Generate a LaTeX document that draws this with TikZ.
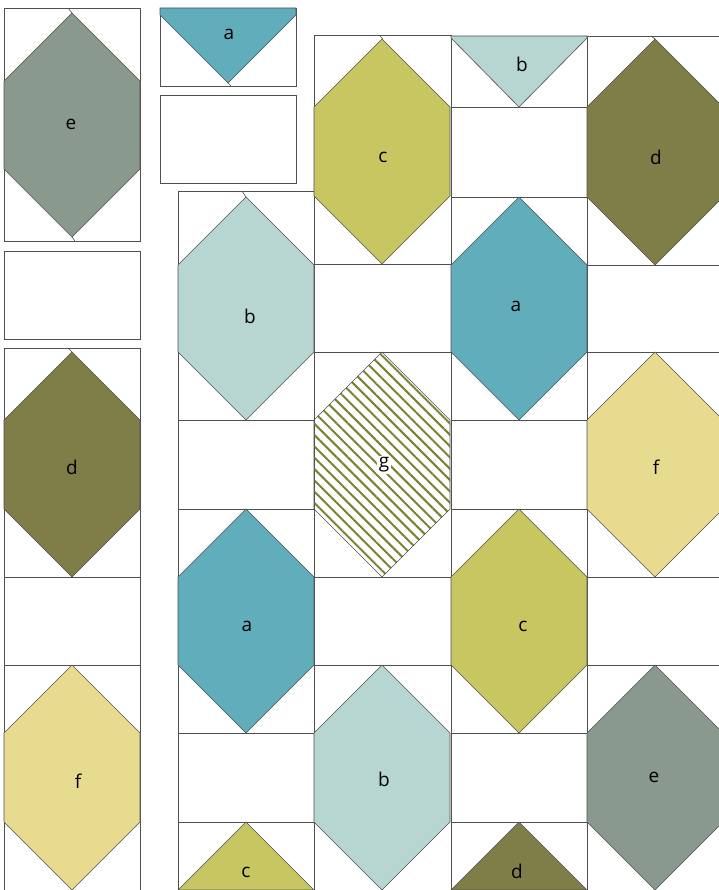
\documentclass[tikz,border=0pt]{standalone}
\usepackage{fontspec}
\setmainfont{Open Sans}
\usetikzlibrary{patterns.meta}
\definecolor{patcha}{RGB}{98,173,187}
\definecolor{patchb}{RGB}{183,213,209}
\definecolor{patchc}{RGB}{200,198,97}
\definecolor{patchd}{RGB}{127,125,72}
\definecolor{patche}{RGB}{138,153,142}
\definecolor{patchf}{RGB}{231,219,143}
\definecolor{patchg}{RGB}{125,130,50}
\definecolor{seam}{RGB}{80,80,80}

% hexagon patch: x left, y of top and bottom vertex
\newcommand{\hexpatch}[4]{%
  \draw[hexp, #4] (#1+68, #2) -- (#1+136, #2+68) -- (#1+136, #3-68)
    -- (#1+68, #3) -- (#1, #3-68) -- (#1, #2+68) -- cycle;}

\begin{document}
\begin{tikzpicture}[
  x=1pt, y=-1pt,
  blk/.style={draw=seam, fill=white, line width=0.8pt},
  hexp/.style={draw=seam, line width=0.6pt},
  tip/.style={draw=seam, line width=0.6pt},
  lbl/.style={font=\fontsize{19}{21}\selectfont, inner sep=1.5pt}
]
\useasboundingbox (0,0) rectangle (718,890);

% column 1
\draw[blk] (4,8) rectangle (140,241);
\draw[blk] (4,251) rectangle (140,339);
\draw[blk] (4,348) rectangle (140,577);
\draw[blk] (4,577) rectangle (140,665);
\draw[blk] (4,665) rectangle (140,895);

% column 2, small pieces
\draw[blk] (160,8) rectangle (296,86);
\draw[blk] (160,95) rectangle (296,183);

% column 2
\draw[blk] (178,191) rectangle (314,420);
\draw[blk] (178,420) rectangle (314,509);
\draw[blk] (178,509) rectangle (314,733);
\draw[blk] (178,733) rectangle (314,822);
\draw[blk] (178,822) rectangle (314,895);

% column 3
\draw[blk] (314,35) rectangle (451,264);
\draw[blk] (314,264) rectangle (451,352);
\draw[blk] (314,352) rectangle (451,577);
\draw[blk] (314,577) rectangle (451,665);
\draw[blk] (314,665) rectangle (451,895);

% column 4
\draw[blk] (451,36) rectangle (587,107);
\draw[blk] (451,107) rectangle (587,197);
\draw[blk] (451,197) rectangle (587,420);
\draw[blk] (451,420) rectangle (587,509);
\draw[blk] (451,509) rectangle (587,733);
\draw[blk] (451,733) rectangle (587,822);
\draw[blk] (451,822) rectangle (587,895);

% column 5
\draw[blk] (587,36) rectangle (723,265);
\draw[blk] (587,265) rectangle (723,352);
\draw[blk] (587,352) rectangle (723,577);
\draw[blk] (587,577) rectangle (723,665);
\draw[blk] (587,665) rectangle (723,895);

% hexagons
\hexpatch{4}{13}{237}{fill=patche}
\hexpatch{4}{352}{577}{fill=patchd}
\hexpatch{4}{665}{890}{fill=patchf}
\hexpatch{178}{197}{420}{fill=patchb}
\hexpatch{178}{509}{733}{fill=patcha}
\hexpatch{314}{39}{264}{fill=patchc}
\hexpatch{314}{352}{577}{pattern={Lines[angle=-45,distance=8pt,line width=2pt]}, pattern color=patchg}
\hexpatch{314}{665}{890}{fill=patchb}
\hexpatch{451}{197}{420}{fill=patcha}
\hexpatch{451}{509}{733}{fill=patchc}
\hexpatch{587}{39}{265}{fill=patchd}
\hexpatch{587}{352}{577}{fill=patchf}
\hexpatch{587}{665}{890}{fill=patche}

% triangles
\draw[hexp, fill=patcha] (160,8) -- (296,8) -- (296,15) -- (228,83) -- (160,15) -- cycle;
\draw[hexp, fill=patchb] (451,36) -- (587,36) -- (587,38) -- (519,107) -- (451,38) -- cycle;
\draw[hexp, fill=patchc] (246,822) -- (314,890) -- (178,890) -- cycle;
\draw[hexp, fill=patchd] (519,822) -- (587,890) -- (451,890) -- cycle;

% short seam ends
\draw[tip] (68,8) -- (72,13);
\draw[tip] (72,237) -- (75,241);
\draw[tip] (68,348) -- (72,352);
\draw[tip] (228,83) -- (231,86);
\draw[tip] (242,191) -- (246,197);
\draw[tip] (379,35) -- (383,39);
\draw[tip] (651,36) -- (655,39);

% labels
\node[lbl] (le1) at (71,124) {e};
\node[lbl] (ld1) at (72,467) {d};
\node[lbl] (lf1) at (78,781) {f};
\node[lbl] (la0) at (229,34) {a};
\node[lbl] (lb2) at (250,316) {b};
\node[lbl] (la2) at (247,626) {a};
\node[lbl] (lc2) at (246,872) {c};
\node[lbl] (lc3) at (383,157) {c};
\node[lbl, fill=white] (lg3) at (384,465) {g};
\node[lbl] (lb3) at (384,779) {b};
\node[lbl] (lb4) at (522,64) {b};
\node[lbl] (la4) at (516,306) {a};
\node[lbl] (lc4) at (523,626) {c};
\node[lbl] (ld4) at (517,871) {d};
\node[lbl] (ld5) at (656,157) {d};
\node[lbl] (lf5) at (656,467) {f};
\node[lbl] (le5) at (654,777) {e};
\end{tikzpicture}
\end{document}
